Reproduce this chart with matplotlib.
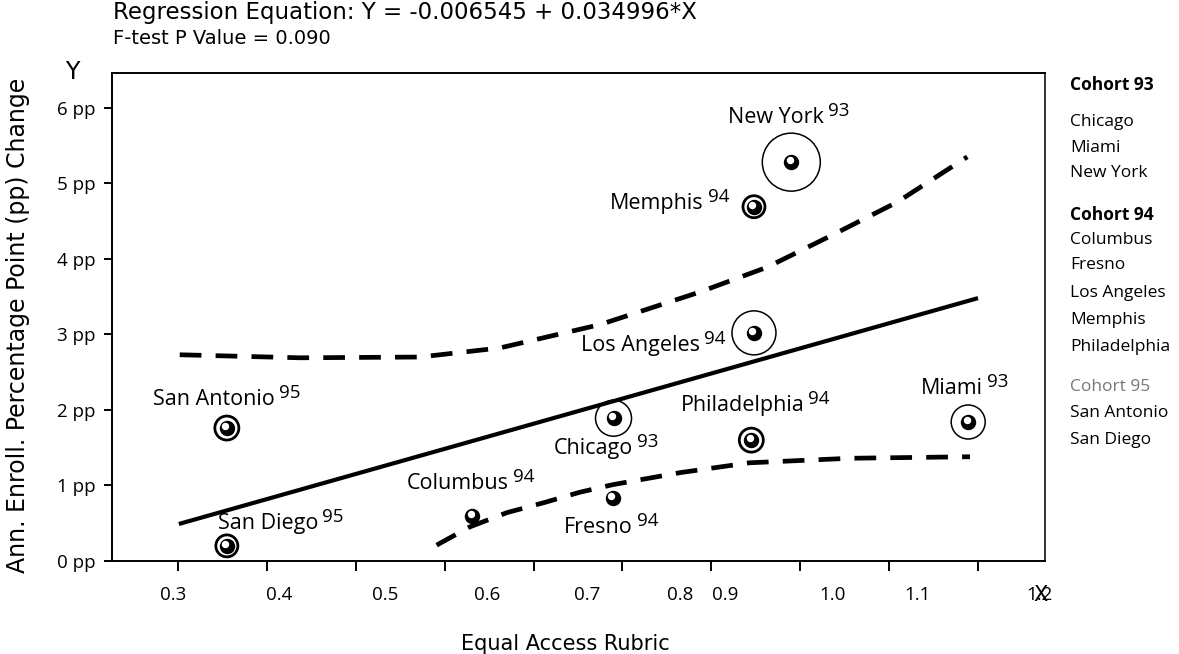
import numpy as np
import matplotlib
matplotlib.use('Agg')
import matplotlib.pyplot as plt
from matplotlib import transforms

LABEL_FONT = 'Open Sans'
HEAD_FONT = 'DejaVu Sans'

# sites: rubric score vs annual enrollment change (pp)
cities = ['New York', 'Memphis', 'Los Angeles', 'Philadelphia', 'Miami',
          'Chicago', 'Columbus', 'Fresno', 'San Antonio', 'San Diego']
cohort = ['93', '94', '94', '94', '93', '93', '94', '94', '95', '95']
rubric = [0.990, 0.948, 0.948, 0.945, 1.189, 0.790, 0.631, 0.789, 0.355, 0.355]
change = [5.28, 4.69, 3.02, 1.60, 1.84, 1.89, 0.60, 0.83, 1.76, 0.20]
weight = [29, 11, 22, 12, 17, 18, 0, 0, 12, 11]

# fitted line and confidence band
fit_x = [0.301, 1.200]
fit_y = [0.49, 3.48]
upper_x = [0.302, 0.437, 0.572, 0.662, 0.775, 0.887, 0.963, 1.037, 1.109, 1.188]
upper_y = [2.73, 2.69, 2.70, 2.82, 3.13, 3.56, 3.89, 4.32, 4.75, 5.35]
lower_x = [0.591, 0.628, 0.670, 0.711, 0.752, 0.789, 0.865, 0.943, 1.056, 1.191]
lower_y = [0.21, 0.45, 0.64, 0.77, 0.91, 1.01, 1.17, 1.30, 1.36, 1.38]

xticks = [0.3, 0.4, 0.5, 0.6, 0.7, 0.8, 0.9, 1.0, 1.1, 1.2]
xtick_text = ['0.3', '0.4', '0.5', '0.6', '0.7', '0.8', '0.9', '1.0', '1.1', '1.2']
xtext_pos = [0.2944, 0.4136, 0.5329, 0.6476, 0.7600, 0.8647, 0.9153, 1.0368, 1.1324, 1.2696]
yticks = [0, 1, 2, 3, 4, 5, 6]

legend_groups = [
    ('Cohort 93', ['Chicago', 'Miami', 'New York']),
    ('Cohort 94', ['Columbus', 'Fresno', 'Los Angeles', 'Memphis', 'Philadelphia']),
    ('Cohort 95', ['San Antonio', 'San Diego']),
]

# where each name sits relative to its point (pixels)
label_off = {
    'New York': (-15, 45, 'center'), 'Memphis': (-50, 3, 'right'),
    'Los Angeles': (-54, -13, 'right'), 'Philadelphia': (-9, 35, 'center'),
    'Miami': (-16, 34, 'center'), 'Chicago': (-20, -30, 'center'),
    'Columbus': (-14, 32, 'center'), 'Fresno': (-14, -29, 'center'),
    'San Antonio': (-13, 29, 'center'), 'San Diego': (-9, 22, 'left'),
}

fig = plt.figure(figsize=(11.79, 6.54), dpi=100)
ax = fig.add_axes([112/1179, 93/654, 933/1179, 488/654])
ax.set_xlim(0.2258, 1.2754)
ax.set_ylim(0, 6.46)

for s in ['left', 'bottom', 'top', 'right']:
    ax.spines[s].set_linewidth(1.4)
ax.spines['right'].set_color('#333333')

ax.plot(fit_x, fit_y, color='black', lw=3.0, solid_capstyle='butt')
ax.plot(upper_x, upper_y, color='black', lw=3.4, dashes=(4.6, 3.0))
ax.plot(lower_x, lower_y, color='black', lw=3.4, dashes=(4.6, 3.0))

# bubbles: ring size by weight, dot with a white highlight
px2pt = 0.72
for x, y, w in zip(rubric, change, weight):
    if w > 0:
        lw = 2.0 if w <= 12 else 1.1
        ax.scatter([x], [y], s=(2*w*px2pt)**2, facecolor='none',
                   edgecolor='black', linewidth=lw, zorder=3)
ax.scatter(rubric, change, s=(14*px2pt)**2, color='black', zorder=4)
shine = transforms.offset_copy(ax.transData, fig=fig, x=-1.5, y=2, units='dots')
ax.scatter(rubric, change, s=(6*px2pt)**2, color='white', zorder=5,
           transform=shine)

for name, c, x, y in zip(cities, cohort, rubric, change):
    dx, dy, ha = label_off[name]
    t = ax.annotate(name, (x, y), xytext=(dx, dy), textcoords='offset pixels',
                    ha=ha, va='center', family=LABEL_FONT, fontsize=15.5,
                    zorder=6)
    ax.annotate(c, xy=(1, 0.5), xycoords=t, xytext=(4, 6.5),
                textcoords='offset pixels', ha='left', va='center',
                family=LABEL_FONT, fontsize=13.5, zorder=6)

ax.set_xticks(xticks)
ax.set_xticklabels([])
ax.tick_params(axis='x', direction='out', length=7, width=1.4)
xlab = transforms.blended_transform_factory(ax.transData, ax.transAxes)
for p, s in zip(xtext_pos, xtick_text):
    ax.text(p, -34/488, s, transform=xlab, ha='center', va='center',
            family=LABEL_FONT, fontsize=13.5)

ax.set_yticks(yticks)
ax.set_yticklabels([f'{v} pp' for v in yticks], family=LABEL_FONT, fontsize=13.5)
ax.tick_params(axis='y', direction='out', length=6, width=1.4, pad=6)

fig.text(113/1179, 1 - 13/654, 'Regression Equation: Y = -0.006545 + 0.034996*X',
         family=HEAD_FONT, fontsize=16.5, ha='left', va='center')
fig.text(113/1179, 1 - 39/654, 'F-test P Value = 0.090',
         family=HEAD_FONT, fontsize=14, ha='left', va='center')
fig.text(72/1179, 1 - 72/654, 'Y', family=HEAD_FONT, fontsize=17,
         ha='center', va='center')
fig.text(1040/1179, 1 - 595/654, 'X', family=HEAD_FONT, fontsize=15,
         ha='center', va='center')
fig.text(18/1179, 1 - 325/654, 'Ann. Enroll. Percentage Point (pp) Change',
         family=HEAD_FONT, fontsize=17, rotation=90, ha='center', va='center')
fig.text(565/1179, 1 - 644/654, 'Equal Access Rubric', family=HEAD_FONT,
         fontsize=15, ha='center', va='center')

# cohort listing on the right
ly = [85, 122, 148, 173, 215, 240, 265, 293, 320, 347, 387, 413, 440]
k = 0
for head, members in legend_groups:
    gray = head.endswith('95')
    fig.text(1070/1179, 1 - ly[k]/654, head, family=LABEL_FONT, fontsize=12.5,
             fontweight='normal' if gray else 'bold',
             color='#777777' if gray else 'black', va='center')
    k += 1
    for m in members:
        fig.text(1070/1179, 1 - ly[k]/654, m, family=LABEL_FONT, fontsize=12.5,
                 va='center')
        k += 1

fig.savefig('out.png', dpi=100)
